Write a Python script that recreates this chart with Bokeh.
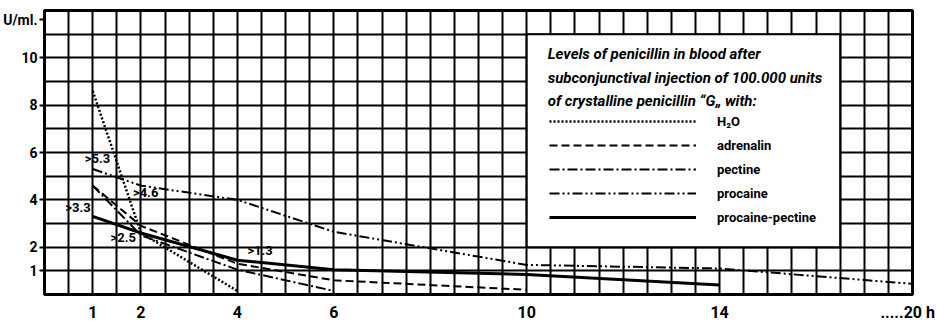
from bokeh.plotting import figure
from bokeh.models import (FixedTicker, SingleIntervalTicker, Range1d, BoxAnnotation,
                          Label, Legend, LegendItem)
from bokeh.embed import file_html
from bokeh.resources import INLINE

# ---- data (hours after injection, U/ml) ----
hours_h2o = [1, 2, 4]
h2o = [8.6, 2.6, 0.15]

hours_adr = [1, 2, 4, 6, 10]
adrenalin = [4.6, 2.9, 1.3, 0.6, 0.2]

hours_pec = [1, 2, 4, 6]
pectine = [4.6, 2.5, 1.05, 0.15]

hours_proc = [1, 2, 4, 6, 10, 14, 18]   # last point at the broken right end ("....20 h")
procaine = [5.3, 4.6, 4.0, 2.65, 1.25, 1.1, 0.45]

hours_pp = [1, 2, 4, 6, 10, 14]
procaine_pectine = [3.3, 2.6, 1.45, 1.05, 0.85, 0.4]

x_ticks = [1, 2, 4, 6, 10, 14, 17.9]
x_tick_labels = {17.9: ".....20 h"}
y_ticks = [1, 2, 4, 6, 8, 10, 11.6]
y_tick_labels = {11.6: "U/ml."}

legend_title = ["Levels of penicillin  in blood after",
                "subconjunctival  injection of 100.000 units",
                "of crystalline  penicillin \u201cG\u201e with:"]
series_names = ["H\u2082O", "adrenalin", "pectine", "procaine", "procaine-pectine"]

FONT = "Roboto"

p = figure(width=937, height=324, output_backend="svg", toolbar_location=None,
           x_range=Range1d(0, 18), y_range=Range1d(0, 12),
           min_border_left=43, min_border_right=25, min_border_top=10, min_border_bottom=24,
           background_fill_color="white", border_fill_color="white")

p.outline_line_color = "black"
p.outline_line_width = 3

# grid
p.xgrid.ticker = SingleIntervalTicker(interval=0.5)
p.ygrid.ticker = SingleIntervalTicker(interval=1)
for g in (p.xgrid, p.ygrid):
    g.grid_line_color = "black"
    g.grid_line_width = 2
    g.grid_line_alpha = 1

# axes
p.xaxis.ticker = FixedTicker(ticks=x_ticks)
p.xaxis.major_label_overrides = x_tick_labels
p.xaxis.major_tick_out = 0
p.xaxis.major_tick_in = 0
p.xaxis.minor_tick_line_color = None
p.xaxis.axis_line_width = 3
p.xaxis.major_label_standoff = 8
p.xaxis.major_label_text_font = FONT
p.xaxis.major_label_text_font_style = "bold"
p.xaxis.major_label_text_font_size = "16px"
p.xaxis.major_label_text_color = "black"

p.yaxis.ticker = FixedTicker(ticks=y_ticks)
p.yaxis.major_label_overrides = y_tick_labels
p.yaxis.major_tick_out = 5
p.yaxis.major_tick_in = 0
p.yaxis.major_tick_line_width = 2
p.yaxis.minor_tick_line_color = None
p.yaxis.axis_line_width = 3
p.yaxis.major_label_standoff = 2
p.yaxis.major_label_text_font = FONT
p.yaxis.major_label_text_font_style = "bold"
p.yaxis.major_label_text_font_size = "14px"
p.yaxis.major_label_text_color = "black"

# curves
r_h2o = p.line(hours_h2o, h2o, line_color="black", line_width=2.5, line_dash="2 2")
r_adr = p.line(hours_adr, adrenalin, line_color="black", line_width=2, line_dash="8 4")
r_pec = p.line(hours_pec, pectine, line_color="black", line_width=2, line_dash="10 3 2 3")
r_proc = p.line(hours_proc, procaine, line_color="black", line_width=2, line_dash="10 3 2 3 2 3")
r_pp = p.line(hours_pp, procaine_pectine, line_color="black", line_width=3)

# value annotations anchored at data points
lab_kw = dict(text_font=FONT, text_font_style="bold", text_font_size="13px",
              text_color="black", text_baseline="bottom")
p.add_layout(Label(x=hours_proc[0], y=procaine[0], text=">5.3", x_offset=-8, y_offset=3, **lab_kw))
p.add_layout(Label(x=hours_proc[1], y=procaine[1], text=">4.6", x_offset=-8, y_offset=-14, **lab_kw))
p.add_layout(Label(x=hours_pp[0], y=procaine_pectine[0], text=">3.3", x_offset=-2, y_offset=1,
                   text_align="right", **lab_kw))
p.add_layout(Label(x=hours_pp[1], y=procaine_pectine[1], text=">2.5", x_offset=-5, y_offset=-12,
                   text_align="right", **lab_kw))
p.add_layout(Label(x=hours_pp[2], y=procaine_pectine[2], text=">1.3", x_offset=10, y_offset=2, **lab_kw))

# legend box
p.add_layout(BoxAnnotation(left=10, right=16.5, bottom=2, top=11, fill_color="white",
                           fill_alpha=1, line_color="black", line_width=2, line_alpha=1))
for i, line in enumerate(legend_title):
    p.add_layout(Label(x=10, y=11, text=line, x_offset=21, y_offset=-20 - 23.5 * i,
                       text_baseline="middle", text_font=FONT, text_font_style="bold italic",
                       text_font_size="15px", text_color="black"))

legend = Legend(items=[LegendItem(label=n, renderers=[r]) for n, r in
                       zip(series_names, [r_h2o, r_adr, r_pec, r_proc, r_pp])],
                location=(505, 67), orientation="vertical",
                glyph_width=147, glyph_height=20, label_height=20, spacing=4,
                label_standoff=21, padding=0, margin=0,
                background_fill_alpha=0, border_line_color=None,
                label_text_font=FONT, label_text_font_style="bold",
                label_text_font_size="13px", label_text_color="black")
p.add_layout(legend, "center")

open("out.html", "w").write(file_html(p, INLINE))
